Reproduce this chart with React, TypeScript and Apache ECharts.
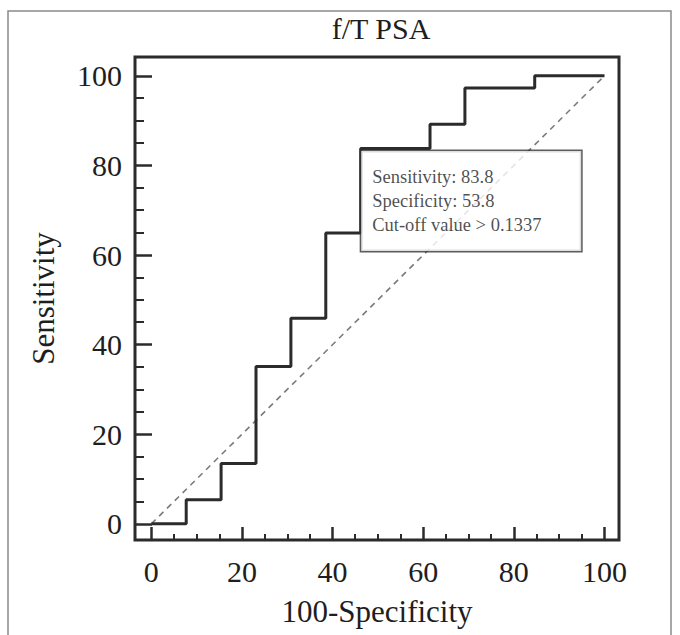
import React, { useEffect, useRef } from "react";
import * as echarts from "echarts";

// ROC curve operating points (100-Specificity, Sensitivity)
const rocX = [0, 7.7, 15.4, 23.1, 30.8, 38.5, 46.2, 61.5, 69.2, 84.6, 100];
const rocY = [0, 5.4, 13.5, 35.1, 45.9, 64.9, 83.8, 89.2, 97.3, 100, 100];
// Reference (chance) diagonal
const refX = [0, 100];
const refY = [0, 100];
// Optimal cut-off point
const cutPoint = [46.2, 83.8];
const annotationLines = ["Sensitivity: 83.8", "Specificity: 53.8", "Cut-off value > 0.1337"];
// Ticks
const majorTicks = [0, 20, 40, 60, 80, 100];
const minorTicks = [5, 10, 15, 25, 30, 35, 45, 50, 55, 65, 70, 75, 85, 90, 95];

const chartTitle = "f/T PSA";
const xName = "100-Specificity";
const yName = "Sensitivity";

const FONT = '"Liberation Serif", "Times New Roman", serif';
const INK = "#1e1e1e";
const LINE = "#2b2b2b";

export default function App() {
  const ref = useRef<HTMLDivElement>(null);

  useEffect(() => {
    if (!ref.current) return;
    const chart = echarts.init(ref.current, undefined, { renderer: "svg" });

    const xMin = -3.6, xMax = 103.2, yMin = -3.6, yMax = 104.2;

    const labelStyle = { fontSize: 30, fontFamily: FONT, color: INK };
    const hiddenLine = { show: false, onZero: false };

    const option: any = {
      animation: false,
      backgroundColor: "#ffffff",
      grid: {
        left: 135,
        top: 57,
        right: 61,
        bottom: 95,
        show: true,
        borderColor: LINE,
        borderWidth: 3,
        backgroundColor: "transparent",
      },
      graphic: [
        {
          type: "rect",
          silent: true,
          shape: { x: 8, y: 11, width: 663, height: 640 },
          style: { fill: "none", stroke: "#8a8a8a", lineWidth: 1.5 },
        },
        {
          type: "text",
          x: 381,
          y: 28,
          style: {
            text: chartTitle,
            fontSize: 30,
            fontFamily: FONT,
            fill: INK,
            align: "center",
            verticalAlign: "middle",
          },
        },
      ],
      xAxis: [
        {
          type: "value",
          min: xMin,
          max: xMax,
          position: "bottom",
          axisLine: hiddenLine,
          splitLine: { show: false },
          axisTick: {
            show: true,
            inside: true,
            length: 13,
            customValues: majorTicks,
            lineStyle: { width: 2.5, color: LINE },
          },
          axisLabel: { ...labelStyle, margin: 16, customValues: majorTicks },
          name: xName,
          nameLocation: "middle",
          nameGap: 56,
          nameTextStyle: { fontSize: 31, fontFamily: FONT, color: INK },
        },
        {
          type: "value",
          min: xMin,
          max: xMax,
          position: "bottom",
          axisLine: hiddenLine,
          splitLine: { show: false },
          axisLabel: { show: false },
          axisTick: {
            show: true,
            inside: true,
            length: 6,
            customValues: minorTicks,
            lineStyle: { width: 2, color: LINE },
          },
        },
      ],
      yAxis: [
        {
          type: "value",
          min: yMin,
          max: yMax,
          position: "left",
          axisLine: hiddenLine,
          splitLine: { show: false },
          axisTick: {
            show: true,
            inside: true,
            length: 17,
            customValues: majorTicks,
            lineStyle: { width: 2.5, color: LINE },
          },
          axisLabel: { ...labelStyle, margin: 13, customValues: majorTicks },
          name: yName,
          nameLocation: "middle",
          nameGap: 76,
          nameTextStyle: { fontSize: 31, fontFamily: FONT, color: INK },
        },
        {
          type: "value",
          min: yMin,
          max: yMax,
          position: "left",
          axisLine: hiddenLine,
          splitLine: { show: false },
          axisLabel: { show: false },
          axisTick: {
            show: true,
            inside: true,
            length: 9,
            customValues: minorTicks,
            lineStyle: { width: 2, color: LINE },
          },
        },
      ],
      series: [
        {
          type: "line",
          name: "reference",
          xAxisIndex: 0,
          yAxisIndex: 0,
          data: refX.map((x, i) => [x, refY[i]]),
          symbol: "none",
          lineStyle: { color: "#7a7a7a", width: 1.6, type: [6, 5] },
          z: 2,
        },
        {
          type: "line",
          name: "ROC",
          xAxisIndex: 0,
          yAxisIndex: 0,
          data: rocX.map((x, i) => [x, rocY[i]]),
          step: "end",
          symbol: "none",
          lineStyle: { color: LINE, width: 3 },
          z: 3,
        },
        {
          type: "scatter",
          name: "cut-off",
          xAxisIndex: 0,
          yAxisIndex: 0,
          data: [cutPoint],
          symbolSize: 1,
          itemStyle: { color: "rgba(0,0,0,0)" },
          z: 5,
          label: {
            show: true,
            position: [1, 3],
            align: "left",
            verticalAlign: "top",
            formatter: annotationLines.join("\n"),
            fontFamily: FONT,
            fontSize: 18.5,
            lineHeight: 24,
            color: INK,
            backgroundColor: "#ffffff",
            borderColor: "#333333",
            borderWidth: 1.5,
            padding: [14, 11, 14, 11],
            width: 198,
          },
        },
      ],
    };

    chart.setOption(option);
    return () => chart.dispose();
  }, []);

  return (
    <div
      ref={ref}
      style={{ position: "absolute", left: 0, top: 0, width: 680, height: 635 }}
    />
  );
}
